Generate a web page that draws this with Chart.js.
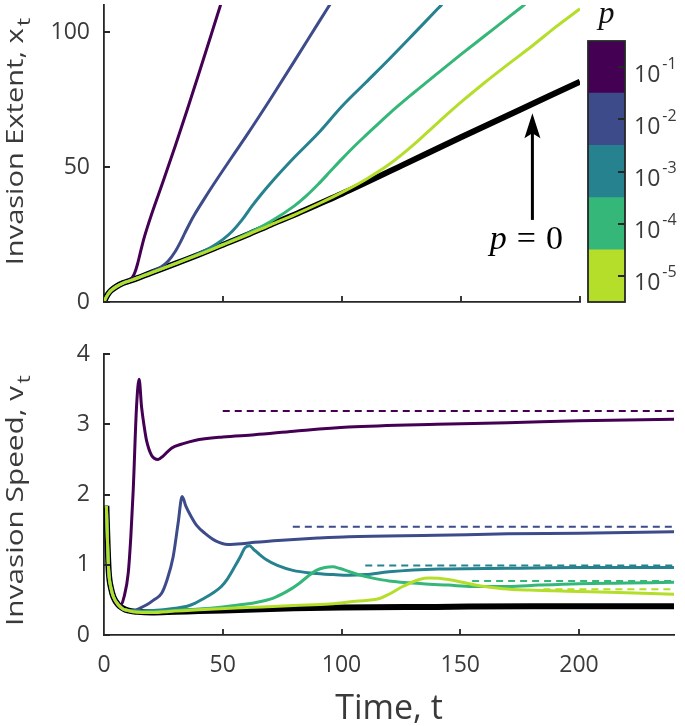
<!DOCTYPE html>
<html>
<head>
<meta charset="utf-8">
<script src="https://cdn.jsdelivr.net/npm/chart.js@4.4.0/dist/chart.umd.min.js"></script>
<style>
  body { margin: 0; background: #fff; width: 685px; height: 726px; position: relative; overflow: hidden; }
  canvas { position: absolute; }
  #extent { left: 0; top: 0; }
  #speed { left: 0; top: 330px; }
  #cbar { left: 580px; top: 0; }
</style>
</head>
<body>
<canvas id="extent" width="685" height="330" style="width:685px;height:330px"></canvas>
<canvas id="speed" width="685" height="400" style="width:685px;height:400px"></canvas>
<canvas id="cbar" width="105" height="310" style="width:105px;height:310px"></canvas>
<script>
// switching probability p (colorbar, top to bottom)
const pExponents = [-1, -2, -3, -4, -5];
const pColors = ['#440154', '#3e4b8a', '#26828e', '#35b779', '#b5de2b'];

// tick values
const extentTicks = [0, 50, 100];
const speedTicks = [0, 1, 2, 3, 4];
const timeTicks = [0, 50, 100, 150, 200];

// ---- top panel: invasion extent x_t ----
const extT0 = [0, 1, 2, 3, 5, 8, 12, 20, 30, 40, 50, 60, 70, 80, 90, 100, 125, 150, 175, 200];
const extX0 = [0, 1.9, 3.3, 4.3, 5.6, 7, 8.2, 10.9, 14.2, 17.6, 21.2, 24.8, 28.6, 32.3, 36.2, 40.1, 50.5, 61, 71.3, 81.6];

const extT1 = [0, 1, 2, 3, 5, 8, 10, 11, 12, 13, 14, 15, 16, 17, 18, 20, 22, 25, 30, 35, 40, 45, 49];
const extX1 = [0, 1.9, 3.3, 4.3, 5.6, 7, 7.8, 8.4, 9.2, 11, 13.8, 17.3, 20.9, 24.2, 27.1, 32.5, 37.6, 45.1, 58, 71.3, 85, 98.9, 110.1];

const extT2 = [0, 1, 2, 3, 5, 8, 12, 16, 20, 24, 27, 30, 32, 34, 36, 38, 42, 46, 50, 55, 60, 70, 80, 90, 95];
const extX2 = [0, 1.9, 3.3, 4.3, 5.6, 7, 8.3, 9.7, 11.2, 13, 15.2, 18.8, 22, 25.6, 29.1, 32.3, 38, 43.5, 48.8, 55.3, 61.8, 75.3, 89.2, 103.3, 110.3];

const extT3 = [0, 1, 2, 3, 5, 8, 12, 20, 30, 40, 45, 50, 54, 58, 62, 66, 70, 80, 90, 100, 110, 120, 130, 140, 142];
const extX3 = [0, 1.9, 3.3, 4.3, 5.6, 7, 8.2, 10.9, 14.3, 18, 20.3, 23.2, 26.3, 30.4, 35.3, 39.8, 44, 53.6, 62.5, 72.5, 81.3, 90.1, 99.2, 108.4, 110.2];

const extT4 = [0, 1, 2, 3, 5, 8, 12, 20, 30, 40, 50, 60, 70, 80, 85, 90, 95, 100, 105, 110, 120, 130, 140, 150, 160, 170, 177];
const extX4 = [0, 1.9, 3.3, 4.3, 5.6, 7, 8.2, 10.9, 14.2, 17.6, 21.3, 25.2, 29.8, 35.6, 39.3, 43.6, 48.3, 53, 57.5, 61.7, 69.9, 77.4, 84.6, 91.7, 98.6, 105.5, 110.3];

const extT5 = [0, 1, 2, 3, 5, 8, 12, 20, 30, 40, 50, 60, 70, 80, 90, 100, 110, 120, 130, 140, 150, 160, 170, 180, 190, 200];
const extX5 = [0, 1.9, 3.3, 4.3, 5.6, 7, 8.2, 10.9, 14.2, 17.6, 21.2, 24.8, 28.6, 32.3, 36.3, 40.6, 45.4, 51.1, 58.2, 66.2, 74, 81.3, 88.2, 94.9, 102, 108.6];

// ---- bottom panel: invasion speed v_t ----
const spdT0 = [1, 1.5, 2, 3, 4, 6, 8, 10, 14, 20, 30, 40, 60, 80, 100, 140, 180, 240];
const spdV0 = [1.84, 1.3, 0.9, 0.66, 0.54, 0.43, 0.38, 0.35, 0.33, 0.32, 0.33, 0.34, 0.36, 0.38, 0.39, 0.40, 0.41, 0.41];

const spdT1 = [1, 1.5, 2, 3, 4, 5, 6.7, 8.5, 10.2, 11.3, 12.3, 13.7, 14.8, 15.8, 17, 17.9, 20, 22.8, 25, 28.4, 33, 38.2, 50, 63.4, 80, 103, 140, 170, 200, 240];
const spdV1 = [1.84, 1.3, 0.9, 0.66, 0.54, 0.46, 0.41, 0.55, 0.88, 1.4, 2.06, 3.25, 3.64, 3.25, 2.95, 2.77, 2.56, 2.5, 2.55, 2.66, 2.72, 2.77, 2.82, 2.85, 2.9, 2.96, 3.0, 3.02, 3.05, 3.07];

const spdT2 = [1, 1.5, 2, 3, 4, 6, 8, 10, 12, 15, 18, 21, 24.2, 26.5, 29.1, 31.2, 32.9, 34.5, 36.8, 39, 42.4, 47, 52.2, 58, 63.4, 75, 90, 103, 140, 170, 200, 240];
const spdV2 = [1.84, 1.3, 0.9, 0.66, 0.54, 0.43, 0.37, 0.35, 0.34, 0.38, 0.43, 0.5, 0.59, 0.78, 1.11, 1.59, 1.97, 1.83, 1.68, 1.56, 1.45, 1.34, 1.29, 1.3, 1.32, 1.35, 1.38, 1.4, 1.42, 1.44, 1.45, 1.47];

const spdT3 = [1, 1.5, 2, 3, 4, 6, 8, 10, 12, 16, 20, 25, 30, 35, 38.2, 42, 46, 49.4, 52, 55, 57.5, 59.3, 61.3, 63, 65, 68.4, 73, 79.5, 88, 96.4, 103, 110, 120, 141, 170, 200, 240];
const spdV3 = [1.84, 1.3, 0.9, 0.66, 0.54, 0.43, 0.37, 0.35, 0.34, 0.34, 0.35, 0.36, 0.38, 0.41, 0.45, 0.52, 0.6, 0.69, 0.8, 0.97, 1.12, 1.24, 1.27, 1.22, 1.16, 1.07, 0.99, 0.92, 0.88, 0.86, 0.85, 0.86, 0.9, 0.94, 0.95, 0.96, 0.96];

const spdT4 = [1, 1.5, 2, 3, 4, 6, 8, 10, 12, 16, 20, 30, 40, 50, 60, 65, 70, 75.3, 79, 82.4, 86, 89.4, 93, 96.4, 99, 103.4, 108, 113.2, 120, 134.2, 145, 155.2, 170, 183.2, 200, 220, 240];
const spdV4 = [1.84, 1.3, 0.9, 0.66, 0.54, 0.43, 0.37, 0.35, 0.34, 0.33, 0.33, 0.35, 0.37, 0.4, 0.44, 0.47, 0.51, 0.59, 0.66, 0.74, 0.84, 0.92, 0.96, 0.97, 0.95, 0.9, 0.85, 0.81, 0.77, 0.73, 0.71, 0.69, 0.69, 0.71, 0.73, 0.74, 0.75];

const spdT5 = [1, 1.5, 2, 3, 4, 6, 8, 10, 12, 16, 20, 30, 40, 60, 80, 95, 106, 116, 120, 125.8, 132.8, 137, 145, 158, 168, 179, 200, 220, 240];
const spdV5 = [1.84, 1.3, 0.9, 0.66, 0.54, 0.43, 0.37, 0.35, 0.33, 0.32, 0.32, 0.34, 0.36, 0.39, 0.42, 0.44, 0.48, 0.52, 0.58, 0.69, 0.79, 0.81, 0.79, 0.7, 0.66, 0.64, 0.62, 0.6, 0.58];

// asymptotic speeds (dashed), start time of each dash
const asymStart = [50, 79.5, 110, 155, 185];
const asymSpeed = [3.19, 1.54, 0.99, 0.77, 0.65];

const axisColor = '#262626';
const textColor = '#3a3a3a';
const FONT = '"Open Sans", "DejaVu Sans", sans-serif';
const SERIF = '"Liberation Serif", "DejaVu Serif", serif';

function pts(ts, vs) {
  return ts.map((t, i) => ({ x: t, y: vs[i] }));
}

// MATLAB-like ticks pointing into the axes
const inTicks = {
  id: 'inTicks',
  afterDatasetsDraw(chart, args, o) {
    const { ctx, chartArea: a } = chart;
    ctx.save();
    ctx.strokeStyle = axisColor;
    ctx.lineWidth = 1.8;
    ctx.beginPath();
    o.x.forEach(v => {
      const px = Math.round(chart.scales.x.getPixelForValue(v));
      ctx.moveTo(px, a.bottom); ctx.lineTo(px, a.bottom - o.len);
    });
    o.y.forEach(v => {
      const py = Math.round(chart.scales.y.getPixelForValue(v));
      ctx.moveTo(a.left, py); ctx.lineTo(a.left + o.len, py);
    });
    ctx.stroke();
    ctx.restore();
  }
};

// rotated y title with a subscript
const yTitle = {
  id: 'yTitle',
  afterDraw(chart, args, o) {
    const { ctx, chartArea: a } = chart;
    ctx.save();
    ctx.translate(o.x, (a.top + a.bottom) / 2 + o.dy);
    ctx.rotate(-Math.PI / 2);
    ctx.scale(o.stretch, 1);
    const mainFont = `${o.size}px ${FONT}`;
    const subFont = `${o.subSize}px ${FONT}`;
    ctx.font = mainFont;
    const w1 = ctx.measureText(o.text).width;
    ctx.font = subFont;
    const w2 = ctx.measureText(o.sub).width;
    const x0 = -(w1 + 2 + w2) / 2;
    ctx.fillStyle = textColor;
    ctx.textBaseline = 'alphabetic';
    ctx.font = mainFont;
    ctx.fillText(o.text, x0, 0);
    ctx.font = subFont;
    ctx.fillText(o.sub, x0 + w1 + 2, 7);
    ctx.restore();
  }
};

// p = 0 label with arrow
const annot = {
  id: 'annot',
  afterDatasetsDraw(chart) {
    const { ctx, scales: { x, y } } = chart;
    const px = x.getPixelForValue(180);
    const yTail = y.getPixelForValue(30.4);
    const yTip = y.getPixelForValue(69.9);
    ctx.save();
    ctx.strokeStyle = '#000';
    ctx.fillStyle = '#000';
    ctx.lineWidth = 3;
    ctx.beginPath();
    ctx.moveTo(px, yTail);
    ctx.lineTo(px, yTip + 18);
    ctx.stroke();
    ctx.beginPath();
    ctx.moveTo(px, yTip);
    ctx.lineTo(px + 8, yTip + 25);
    ctx.lineTo(px, yTip + 20);
    ctx.lineTo(px - 8, yTip + 25);
    ctx.closePath();
    ctx.fill();
    // p = 0
    const ty = y.getPixelForValue(19.8);
    ctx.textBaseline = 'alphabetic';
    ctx.font = `italic 34px ${SERIF}`;
    const wp = ctx.measureText('p').width;
    ctx.font = `34px ${SERIF}`;
    const wq = ctx.measureText('=').width;
    const w0 = ctx.measureText('0').width;
    const gap = 10;
    const total = wp + gap + wq + gap + w0;
    const x0 = x.getPixelForValue(177.5) - total / 2;
    ctx.font = `italic 34px ${SERIF}`;
    ctx.fillText('p', x0, ty);
    ctx.font = `34px ${SERIF}`;
    ctx.fillText('=', x0 + wp + gap, ty);
    ctx.fillText('0', x0 + wp + gap + wq + gap, ty);
    ctx.restore();
  }
};

function lineSet(data, color, width, order, dash) {
  return {
    data, borderColor: color, borderWidth: width, order,
    borderDash: dash || [], showLine: true, pointRadius: 0,
    cubicInterpolationMode: 'monotone', fill: false
  };
}

function noPadY(w) {
  return s => { s.width = w; s.paddingTop = 0; s.paddingBottom = 0; };
}
function noPadX(h) {
  return s => { s.height = h; s.paddingLeft = 0; s.paddingRight = 0; };
}

// ---------- top chart ----------
const extData = [pts(extT1, extX1), pts(extT2, extX2), pts(extT3, extX3), pts(extT4, extX4), pts(extT5, extX5)];
const extSets = extData.map((d, i) => lineSet(d, pColors[i], 3, 4 - i));
extSets.push(lineSet(pts(extT0, extX0), '#000', 6, 5));

new Chart(document.getElementById('extent'), {
  type: 'scatter',
  data: { datasets: extSets },
  plugins: [inTicks, yTitle, annot],
  options: {
    responsive: false, animation: false,
    layout: { padding: { left: 0, top: 5, right: 105, bottom: 0 } },
    plugins: {
      legend: { display: false }, tooltip: { enabled: false },
      inTicks: { x: [50, 100, 150, 200], y: extentTicks, len: 6 },
      yTitle: { text: 'Invasion Extent, x', sub: 't', x: 23, dy: -12, size: 24, subSize: 19, stretch: 1.21 }
    },
    scales: {
      x: {
        type: 'linear', min: 0, max: 200,
        grid: { display: false, drawTicks: false },
        border: { display: true, color: axisColor, width: 1.8 },
        ticks: { display: false },
        afterFit: noPadX(28)
      },
      y: {
        min: 0, max: 110,
        grid: { display: false, drawTicks: false },
        border: { display: true, color: axisColor, width: 1.8 },
        afterBuildTicks(s) { s.ticks = extentTicks.map(v => ({ value: v })); },
        ticks: { color: textColor, font: { family: FONT, size: 23 }, padding: 14 },
        afterFit: noPadY(104)
      }
    }
  }
});

// ---------- bottom chart ----------
const spdData = [pts(spdT1, spdV1), pts(spdT2, spdV2), pts(spdT3, spdV3), pts(spdT4, spdV4), pts(spdT5, spdV5)];
const spdSets = spdData.map((d, i) => lineSet(d, pColors[i], 3, 4 - i));
spdSets.push(lineSet(pts(spdT0, spdV0), '#000', 6, 5));
asymSpeed.forEach((v, i) => {
  spdSets.push(lineSet([{ x: asymStart[i], y: v }, { x: 240, y: v }], pColors[i], 2, -1, [7, 5]));
});

new Chart(document.getElementById('speed'), {
  type: 'scatter',
  data: { datasets: spdSets },
  plugins: [inTicks, yTitle],
  options: {
    responsive: false, animation: false,
    layout: { padding: { left: 0, top: 24, right: 11, bottom: 0 } },
    plugins: {
      legend: { display: false }, tooltip: { enabled: false },
      inTicks: { x: [50, 100, 150, 200], y: speedTicks, len: 6 },
      yTitle: { text: 'Invasion Speed, v', sub: 't', x: 23, dy: 6, size: 24, subSize: 19, stretch: 1.24 }
    },
    scales: {
      x: {
        type: 'linear', min: 0, max: 240,
        grid: { display: false, drawTicks: false },
        border: { display: true, color: axisColor, width: 1.8 },
        afterBuildTicks(s) { s.ticks = timeTicks.map(v => ({ value: v })); },
        ticks: { color: textColor, font: { family: FONT, size: 23 }, padding: 17, maxRotation: 0 },
        title: { display: true, text: 'Time, t', color: textColor, font: { family: FONT, size: 34 }, padding: 0 },
        afterFit: noPadX(95)
      },
      y: {
        min: 0, max: 4,
        grid: { display: false, drawTicks: false },
        border: { display: true, color: axisColor, width: 1.8 },
        afterBuildTicks(s) { s.ticks = speedTicks.map(v => ({ value: v })); },
        ticks: { color: textColor, font: { family: FONT, size: 23 }, padding: 14 },
        afterFit: noPadY(104)
      }
    }
  }
});

// ---------- colorbar ----------
const cbarSets = pExponents.slice().reverse().map((e, i) => ({
  data: [1], backgroundColor: pColors[pColors.length - 1 - i], borderWidth: 0,
  barPercentage: 1, categoryPercentage: 1
}));

const cbarDeco = {
  id: 'cbarDeco',
  afterDraw(chart) {
    const { ctx, chartArea: a, scales: { y } } = chart;
    ctx.save();
    ctx.strokeStyle = axisColor;
    ctx.lineWidth = 1.8;
    ctx.strokeRect(a.left, a.top, a.right - a.left, a.bottom - a.top);
    ctx.beginPath();
    pExponents.forEach((e, k) => {
      const cy = Math.round(y.getPixelForValue(pExponents.length - k - 0.5));
      ctx.moveTo(a.right, cy); ctx.lineTo(a.right - 7, cy);
    });
    ctx.stroke();
    ctx.fillStyle = textColor;
    ctx.textBaseline = 'middle';
    pExponents.forEach((e, k) => {
      const cy = y.getPixelForValue(pExponents.length - k - 0.5);
      ctx.font = `23px ${FONT}`;
      ctx.fillText('10', a.right + 9, cy + 8);
      const w = ctx.measureText('10').width;
      ctx.font = `16px ${FONT}`;
      ctx.fillText(String(e), a.right + 11 + w, cy - 3);
    });
    ctx.font = `italic 32px ${SERIF}`;
    ctx.textAlign = 'center';
    ctx.fillStyle = '#111';
    ctx.fillText('p', (a.left + a.right) / 2, 15);
    ctx.restore();
  }
};

new Chart(document.getElementById('cbar'), {
  type: 'bar',
  data: { labels: [''], datasets: cbarSets },
  plugins: [cbarDeco],
  options: {
    responsive: false, animation: false,
    layout: { padding: { left: 8, top: 41, right: 60, bottom: 8 } },
    plugins: { legend: { display: false }, tooltip: { enabled: false } },
    scales: {
      x: { stacked: true, display: false },
      y: { stacked: true, display: false, min: 0, max: 5 }
    }
  }
});
</script>
</body>
</html>
